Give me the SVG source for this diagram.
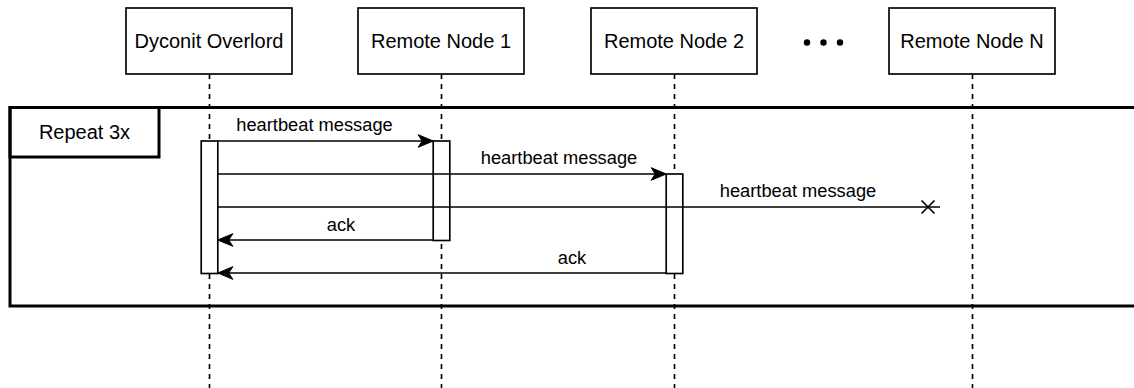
<svg xmlns="http://www.w3.org/2000/svg" width="1134" height="388" viewBox="0 0 1134 388">
  <style>
    .box { fill: #ffffff; stroke: #000000; stroke-width: 1.66; }
    .frame { fill: none; stroke: #000000; stroke-width: 3; }
    .lifeline { fill: none; stroke: #000000; stroke-width: 1.66; stroke-dasharray: 5 5; }
    .act { fill: #ffffff; stroke: #000000; stroke-width: 1.66; }
    .msg { fill: none; stroke: #000000; stroke-width: 1.66; }
    .title { font-family: "Liberation Sans", Arial, Helvetica, sans-serif; font-size: 20px; fill: #000000; text-anchor: middle; }
    .label { font-family: "Liberation Sans", Arial, Helvetica, sans-serif; font-size: 18.3px; fill: #000000; text-anchor: middle; }
  </style>
  <defs>
    <marker id="arrow" markerUnits="userSpaceOnUse" markerWidth="18" markerHeight="16" refX="0" refY="0" viewBox="-16 -8 18 16" orient="auto" overflow="visible">
      <path d="M0,0 L-15,-6.3 L-11,0 L-15,6.3 Z" fill="#000000" stroke="#000000" stroke-width="1"/>
    </marker>
  </defs>

  <rect width="1134" height="388" fill="#ffffff"/>

  <!-- loop frame (runs past the right edge) -->
  <g id="loop-frame">
    <path class="frame" d="M1140,107.5 H10 V306 H1140"/>
    <rect class="frame" x="10" y="107.5" width="149" height="49.5" fill="#ffffff"/>
    <text class="title" x="84.5" y="139">Repeat 3x</text>
  </g>

  <!-- participants with their lifelines -->
  <g id="node-overlord">
    <rect class="box" x="126" y="8" width="166" height="66"/>
    <text class="title" x="209" y="48">Dyconit Overlord</text>
    <line class="lifeline" x1="209.5" y1="74" x2="209.5" y2="388"/>
  </g>
  <g id="node-remote-1">
    <rect class="box" x="358" y="8" width="166" height="66"/>
    <text class="title" x="441" y="48">Remote Node 1</text>
    <line class="lifeline" x1="441.5" y1="74" x2="441.5" y2="388"/>
  </g>
  <g id="node-remote-2">
    <rect class="box" x="591" y="8" width="166" height="66"/>
    <text class="title" x="674" y="48">Remote Node 2</text>
    <line class="lifeline" x1="674.5" y1="74" x2="674.5" y2="388"/>
  </g>
  <g id="ellipsis">
    <circle cx="807" cy="42.5" r="3.2" fill="#000000"/>
    <circle cx="823.5" cy="42.5" r="3.2" fill="#000000"/>
    <circle cx="840" cy="42.5" r="3.2" fill="#000000"/>
  </g>
  <g id="node-remote-n">
    <rect class="box" x="889" y="8" width="166" height="66"/>
    <text class="title" x="972" y="48">Remote Node N</text>
    <line class="lifeline" x1="972.5" y1="74" x2="972.5" y2="388"/>
  </g>

  <!-- activation bars -->
  <g id="activations">
    <rect class="act" x="201.2" y="141" width="16.6" height="132.5"/>
    <rect class="act" x="433.2" y="141" width="16.6" height="99.5"/>
    <rect class="act" x="666.2" y="174" width="16.6" height="99.5"/>
  </g>

  <!-- messages -->
  <g id="connectors">
    <line class="msg" x1="217.8" y1="141" x2="433.2" y2="141" marker-end="url(#arrow)"/>
    <text class="label" x="314.5" y="131">heartbeat message</text>

    <line class="msg" x1="217.8" y1="174" x2="666.2" y2="174" marker-end="url(#arrow)"/>
    <text class="label" x="559" y="164">heartbeat message</text>

    <line class="msg" x1="217.8" y1="207" x2="940" y2="207"/>
    <path class="msg" d="M921.5,200.5 L934.5,213.5 M934.5,200.5 L921.5,213.5"/>
    <text class="label" x="798" y="197">heartbeat message</text>

    <line class="msg" x1="433.2" y1="240" x2="217.8" y2="240" marker-end="url(#arrow)"/>
    <text class="label" x="341" y="231">ack</text>

    <line class="msg" x1="666.2" y1="273" x2="217.8" y2="273" marker-end="url(#arrow)"/>
    <text class="label" x="572" y="264">ack</text>
  </g>
</svg>
